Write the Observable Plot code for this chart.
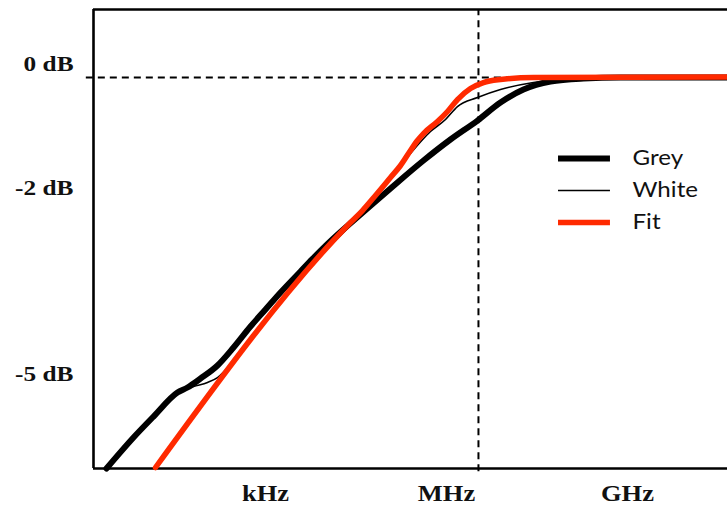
<!DOCTYPE html>
<html>
<head>
<meta charset="utf-8">
<script src="https://cdn.jsdelivr.net/npm/d3@7"></script>
<script src="https://cdn.jsdelivr.net/npm/@observablehq/plot@0.6"></script>
<style>
  html, body { margin: 0; padding: 0; background: #fff; }
</style>
</head>
<body>
<script>
// Frequency response: x = log10(frequency in Hz), y = attenuation in dB.
const greyFreq = [0.364, 0.812, 1.144, 1.541, 1.707, 1.923, 2.204, 2.470, 2.751, 3.000, 3.249, 3.580, 3.779, 3.995, 4.243, 4.575, 5.072, 5.619, 6.066, 6.514, 6.895, 7.276, 7.724, 8.271, 8.884, 10.658];
const greyDb   = [-6.306, -5.806, -5.468, -5.081, -5.000, -4.855, -4.645, -4.355, -4.016, -3.742, -3.468, -3.129, -2.926, -2.716, -2.492, -2.210, -1.790, -1.339, -1.000, -0.694, -0.403, -0.194, -0.065, -0.016, 0, 0];

const whiteFreq = [0.364, 0.812, 1.144, 1.541, 1.807, 2.039, 2.204, 2.470, 2.751, 3.249, 3.580, 3.912, 4.243, 4.575, 4.989, 5.403, 5.735, 5.984, 6.182, 6.514, 6.895, 7.442, 7.890, 8.553, 10.658];
const whiteDb   = [-6.306, -5.806, -5.468, -5.081, -4.984, -4.919, -4.839, -4.565, -4.210, -3.597, -3.226, -2.871, -2.548, -2.226, -1.742, -1.226, -0.871, -0.677, -0.468, -0.323, -0.194, -0.081, -0.032, 0, 0];

const fitFreq = [1.177, 4.409, 4.608, 4.823, 5.072, 5.238, 5.403, 5.519, 5.619, 5.851, 6.017, 6.182, 6.398, 6.613, 6.895, 7.442, 10.658];
const fitDb   = [-6.290, -2.339, -2.145, -1.903, -1.613, -1.419, -1.177, -1.016, -0.903, -0.710, -0.548, -0.355, -0.177, -0.081, -0.032, 0, 0.01];

const yTickValues = [0, -2, -5];
const yTickLabels = ["0 dB", "-2 dB", "-5 dB"];
const xTickValues = [3, 6, 9];
const xTickLabels = ["kHz", "MHz", "GHz"];
const cutoffFreq = 6.53;   // corner frequency marker (log10 Hz)
const seriesNames = ["Grey", "White", "Fit"];

const zip = (xs, ys) => xs.map((x, i) => ({x, y: ys[i]}));
const grey = zip(greyFreq, greyDb);
const white = zip(whiteFreq, whiteDb);
const fit = zip(fitFreq, fitDb);

const xDomain = [0.149, 10.658];
const yDomain = [-6.306, 1.097];

const RED = "#ff2a00";
const styles = {
  Grey:  {stroke: "#000", strokeWidth: 6},
  White: {stroke: "#000", strokeWidth: 1.6},
  Fit:   {stroke: RED, strokeWidth: 5.5}
};
const legend = seriesNames.map((name, i) => ({name, y: -1.306 - i * 0.516}));

const serif = {fontFamily: "Liberation Serif", fontWeight: "bold", fill: "#111"};
const dashed = {stroke: "#000", strokeWidth: 2, strokeDasharray: "7,5"};

const chart = Plot.plot({
  width: 727,
  height: 512,
  marginLeft: 93,
  marginRight: 0,
  marginTop: 9,
  marginBottom: 44,
  x: {type: "linear", domain: xDomain, axis: null},
  y: {type: "linear", domain: yDomain, axis: null},
  style: {background: "#fff", overflow: "visible"},
  marks: [
    // dashed reference lines at 0 dB and at the corner frequency
    Plot.ruleY([0], {x1: 0.03, x2: 8.5, ...dashed}),
    Plot.ruleX([cutoffFreq], {y1: -6.36, y2: yDomain[1], ...dashed}),
    // frame: left, top and bottom edges
    Plot.ruleX([xDomain[0]], {stroke: "#000", strokeWidth: 2.6}),
    Plot.ruleY([yDomain[1]], {stroke: "#000", strokeWidth: 2.6}),
    Plot.ruleY([yDomain[0]], {stroke: "#000", strokeWidth: 2.6}),
    // response curves
    Plot.line(grey, {x: "x", y: "y", curve: "monotone-x", ...styles.Grey, strokeLinecap: "round"}),
    Plot.line(white, {x: "x", y: "y", curve: "monotone-x", ...styles.White}),
    Plot.line(fit, {x: "x", y: "y", curve: "monotone-x", ...styles.Fit, strokeLinecap: "round"}),
    // y labels
    Plot.text(yTickValues, {
      y: d => d, frameAnchor: "left", dx: -20, dy: -14, textAnchor: "end",
      text: (d, i) => yTickLabels[i], fontSize: 22, ...serif
    }),
    // x labels
    Plot.text(xTickValues, {
      x: d => d, frameAnchor: "bottom", dy: 32, textAnchor: "middle",
      text: (d, i) => xTickLabels[i], fontSize: 23, ...serif
    }),
    // legend
    Plot.ruleY(legend, {
      y: "y", x1: 7.857, x2: 8.718,
      stroke: d => styles[d.name].stroke, strokeWidth: d => styles[d.name].strokeWidth
    }),
    Plot.text(legend, {
      x: 9.083, y: "y", text: "name", textAnchor: "start",
      fontFamily: "Lato", fontSize: 21, fill: "#111"
    })
  ]
});

document.body.append(chart);

// widen the lettering slightly, as in the original artwork
chart.querySelectorAll("text").forEach(t => {
  const w = t.getComputedTextLength();
  if (w > 0) {
    t.setAttribute("textLength", (w * 1.15).toFixed(1));
    t.setAttribute("lengthAdjust", "spacingAndGlyphs");
  }
});
</script>
</body>
</html>
